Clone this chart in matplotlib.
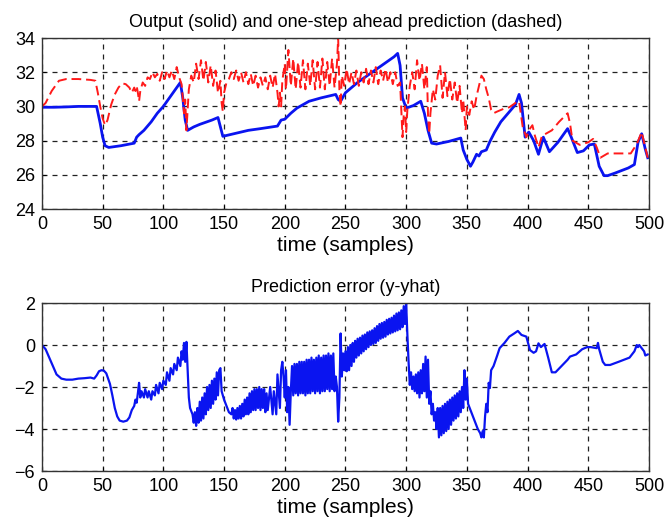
import matplotlib
matplotlib.use("Agg")
import matplotlib.pyplot as plt

plt.rcParams["font.family"] = ["Liberation Sans", "DejaVu Sans"]

# --- measured output y (solid) ---
t_out = [0, 10, 20, 30, 40, 45, 48, 50, 52, 55, 65, 76, 78, 80, 84, 90, 95, 100, 105,
         110, 114, 116, 118, 120, 125, 130, 140, 145, 147, 149, 155, 170, 180, 194, 197,
         200, 205, 210, 220, 230, 242, 244, 246, 250, 260, 270, 280, 290, 293, 295, 297,
         300, 306, 312, 315, 318, 321, 325, 335, 345, 347, 350, 353, 355, 358, 360, 362,
         366, 369, 373, 378, 384, 390, 393, 395, 398, 401, 405, 409, 413, 418, 425, 433,
         436, 441, 446, 451, 455, 459, 463, 466, 472, 483, 488, 491, 494, 497, 499]
y_out = [29.95, 29.95, 29.97, 30.0, 30.0, 30.0, 29.0, 28.2, 27.7, 27.6, 27.7, 27.85, 28.2,
         28.35, 28.6, 29.1, 29.6, 30.0, 30.5, 31.0, 31.4, 30.5, 29.2, 28.6, 28.8, 28.95,
         29.2, 29.35, 28.8, 28.25, 28.35, 28.6, 28.7, 28.85, 29.2, 29.25, 29.6, 29.9,
         30.3, 30.5, 30.7, 30.4, 30.3, 30.8, 31.4, 31.9, 32.4, 32.9, 33.1, 32.4, 30.5,
         29.9, 30.05, 30.3, 29.6, 28.6, 27.85, 27.8, 27.95, 28.15, 27.45, 26.9, 26.5, 26.75,
         27.2, 27.1, 27.35, 27.45, 27.95, 28.5, 29.1, 29.6, 30.1, 30.7, 30.2, 28.2, 28.5,
         28.0, 27.2, 28.2, 27.35, 27.9, 28.7, 28.2, 27.3, 27.4, 27.75, 27.8, 26.5, 25.95,
         25.95, 26.1, 26.4, 26.6, 27.9, 28.4, 27.5, 27.0]

# --- one-step ahead prediction (dashed) ---
t_pred = [0, 3, 8, 14, 20, 30, 40, 44, 46, 48, 50, 52, 54, 57, 60, 63, 66, 69, 72, 74,
          76, 77, 78, 79, 80, 81, 83, 85, 87, 89, 91, 93, 95, 97, 99, 101, 103, 105, 107,
          109, 111, 113, 115, 116, 117, 118, 119, 120, 121, 123, 125, 127, 129, 131, 133,
          135, 137, 139, 141, 143, 145, 147, 148, 149, 150, 152, 154, 156, 158, 160, 162,
          164, 166, 168, 170, 172, 174, 176, 178, 180, 182, 184, 186, 188, 190, 192, 194,
          195, 196, 197, 198, 200, 201, 203, 205, 207, 209, 211, 213, 215, 217, 219, 221,
          223, 225, 227, 229, 231, 233, 235, 237, 239, 241, 243, 244, 245, 246, 247, 249,
          251, 253, 255, 257, 259, 261, 263, 265, 267, 269, 271, 273, 275, 277, 279, 281,
          283, 285, 287, 289, 291, 293, 295, 296, 297, 298, 299, 300, 301, 303, 305, 307,
          309, 311, 313, 315, 317, 318, 319, 320, 322, 324, 326, 328, 330, 332, 334, 336,
          338, 340, 342, 344, 346, 347, 349, 350, 352, 354, 356, 358, 360, 362, 364, 366,
          368, 370, 372, 375, 380, 385, 390, 393, 396, 399, 401, 404, 406, 409, 412, 415,
          420, 426, 433, 435, 437, 443, 450, 454, 457, 460, 466, 475, 485, 490, 494, 497, 499]
y_pred = [30.0, 30.2, 30.9, 31.5, 31.6, 31.6, 31.55, 31.5, 30.8, 30.0, 29.3, 28.9, 29.2,
          30.1, 30.7, 31.1, 31.35, 31.3, 31.1, 30.8, 31.1, 30.9, 31.2, 30.8, 30.3, 30.9,
          31.4, 31.2, 31.7, 31.6, 32.0, 31.7, 31.9, 31.5, 32.0, 31.6, 32.1, 31.7, 32.1,
          31.6, 32.3, 31.7, 31.3, 30.5, 29.6, 30.4, 28.6, 29.8, 31.0, 31.8, 31.4, 32.5,
          31.6, 32.7, 31.5, 32.6, 31.4, 32.4, 31.2, 32.1, 30.8, 31.5, 30.2, 29.7, 30.8,
          31.4, 31.6, 32.0, 31.6, 32.1, 31.5, 32.0, 31.4, 32.0, 31.3, 31.9, 31.2, 31.8,
          31.1, 31.7, 31.2, 31.7, 31.0, 31.8, 31.1, 31.9, 30.8, 30.0, 30.8, 30.0, 31.5,
          32.5, 31.0, 33.3, 31.2, 32.8, 31.0, 32.6, 31.1, 32.7, 31.0, 32.5, 31.2, 32.7,
          31.0, 32.6, 31.1, 32.8, 31.0, 32.6, 31.2, 32.8, 31.1, 32.5, 34.0, 31.0, 30.0,
          31.8, 31.2, 32.2, 31.3, 32.0, 31.3, 32.1, 31.2, 32.0, 31.4, 32.2, 31.3, 32.1,
          31.4, 32.3, 31.3, 32.1, 31.5, 32.2, 31.4, 32.0, 31.3, 32.0, 31.2, 31.4, 29.8,
          28.2, 29.5, 30.0, 28.5, 29.8, 31.2, 32.0, 31.0, 32.7, 31.5, 32.5, 31.0, 32.3,
          29.5, 28.4, 29.6, 31.0, 30.4, 31.8, 32.4, 30.5, 32.0, 30.6, 31.6, 30.4, 31.4,
          30.2, 31.2, 29.6, 30.4, 28.6, 30.0, 29.5, 30.3, 29.8, 30.6, 31.2, 31.8, 31.6,
          31.0, 30.5, 29.8, 29.6, 29.7, 29.85, 29.95, 30.2, 30.3, 28.8, 28.2, 28.6, 28.9,
          28.3, 27.6, 28.3, 28.4, 28.6, 29.1, 29.6, 29.0, 28.0, 27.75, 27.9, 28.1, 27.6,
          27.0, 27.25, 27.25, 27.25, 27.8, 28.5, 27.6, 27.0]

# --- prediction error (y - yhat), (sample, value) pairs ---
err_pts = [
    (0, 0.0), (3, -0.2), (6, -0.6), (9, -1.0), (12, -1.4), (16, -1.6), (20, -1.65),
    (25, -1.65), (30, -1.6), (35, -1.58), (40, -1.55), (43, -1.6), (45, -1.45),
    (47, -1.25), (49, -1.2), (51, -1.22), (53, -1.35), (56, -1.85), (58, -2.4),
    (60, -3.0), (62, -3.4), (64, -3.6), (67, -3.65), (70, -3.6), (72, -3.45),
    (74, -3.1), (76, -2.9), (77, -2.6), (78, -2.75), (79, -2.3), (80, -1.8), (81, -2.5),
    (82, -2.2), (84, -2.5), (85, -2.1), (87, -2.5), (88, -2.2), (90, -2.6), (91, -2.2),
    (93, -2.4), (94, -1.9), (96, -2.3), (97, -1.8), (99, -2.1), (100, -1.7),
    (102, -1.9), (103, -1.3), (105, -1.7), (106, -1.1), (108, -1.4), (109, -0.9),
    (111, -1.2), (112, -0.6), (114, -1.0), (115, -0.3), (116, -0.7), (117, 0.1),
    (118, -0.8), (119, 0.15), (120, -1.2), (121, -2.5), (122, -3.0), (124, -3.3),
    (125, -3.7), (126, -3.2), (127, -3.85), (128, -3.0), (129, -3.7), (130, -2.7),
    (131, -3.6), (132, -2.5), (133, -3.5), (134, -2.3), (135, -3.3), (136, -2.0),
    (137, -3.1), (138, -1.9), (139, -3.0), (140, -1.7), (141, -2.8), (142, -1.6),
    (143, -2.6), (144, -1.3), (145, -2.4), (146, -1.2), (147, -1.1), (148, -2.2),
    (150, -2.6), (152, -2.9), (154, -3.2), (156, -3.3), (157, -3.0), (158, -3.5),
    (159, -3.1), (160, -3.55), (161, -3.0), (162, -3.5), (163, -2.9), (164, -3.5),
    (165, -2.8), (166, -3.4), (167, -2.6), (168, -3.3), (169, -2.5), (170, -3.3),
    (171, -2.3), (172, -3.2), (173, -2.2), (174, -3.1), (175, -2.1), (176, -3.1),
    (177, -2.1), (178, -3.0), (179, -2.0), (180, -3.1), (181, -2.1), (182, -3.0),
    (183, -2.1), (184, -3.2), (185, -2.3), (186, -3.1), (188, -2.0), (190, -3.3),
    (191, -2.2), (193, -3.3), (194, -1.4), (196, -3.0), (197, -1.2), (198, -0.8),
    (199, -1.5), (200, -2.5), (201, -1.2), (202, -3.2), (203, -2.0), (204, -3.8),
    (205, -2.2), (206, -1.0), (207, -2.4), (208, -0.9), (209, -2.3), (210, -0.9),
    (211, -2.4), (212, -0.8), (213, -2.3), (214, -0.8), (215, -2.3), (216, -0.8),
    (217, -2.4), (218, -0.7), (219, -2.3), (220, -0.7), (221, -2.3), (222, -0.6),
    (223, -2.2), (224, -0.7), (225, -2.3), (226, -0.6), (227, -2.2), (228, -0.5),
    (229, -2.3), (230, -0.6), (231, -2.2), (232, -0.5), (233, -2.2), (234, -0.5),
    (235, -2.1), (236, -0.4), (237, -2.2), (238, -0.5), (239, -2.1), (240, -0.4),
    (241, -2.2), (242, -1.5), (243, -2.0), (244, -3.65), (245, -2.5), (246, 0.55),
    (247, -1.5), (248, -0.4), (249, -1.2), (250, -0.3), (251, -1.25), (252, -0.1),
    (253, -1.2), (254, 0.0), (255, -1.0), (256, 0.1), (257, -0.8), (258, 0.2),
    (259, -0.6), (260, 0.3), (261, -0.5), (262, 0.35), (263, -0.4), (264, 0.45),
    (265, -0.3), (266, 0.5), (267, -0.2), (268, 0.6), (269, -0.1), (270, 0.65),
    (271, 0.0), (272, 0.7), (273, 0.05), (274, 0.8), (275, 0.1), (276, 0.9),
    (277, 0.2), (278, 1.0), (279, 0.3), (280, 1.05), (281, 0.35), (282, 1.1),
    (283, 0.4), (284, 1.2), (285, 0.5), (286, 1.25), (287, 0.55), (288, 1.3),
    (289, 0.6), (290, 1.4), (291, 0.65), (292, 1.5), (293, 0.7), (294, 1.55),
    (295, 0.75), (296, 1.65), (297, 0.85), (298, 1.85), (299, 1.0), (300, 2.0),
    (301, 0.5), (302, -0.8), (303, -1.9), (304, -1.3), (305, -2.1), (306, -1.5),
    (307, -2.2), (308, -1.4), (309, -2.3), (310, -1.3), (311, -2.5), (312, -1.2),
    (313, -2.3), (314, -0.9), (315, -2.2), (316, -0.55), (317, -2.5), (318, -0.7),
    (319, -2.8), (320, -2.2), (321, -3.3), (322, -2.8), (323, -3.6), (324, -3.2),
    (325, -4.0), (326, -3.0), (327, -4.4), (328, -3.0), (329, -4.3), (330, -2.9),
    (331, -4.2), (332, -2.8), (333, -4.1), (334, -2.7), (335, -4.0), (336, -2.6),
    (337, -3.8), (338, -2.5), (339, -3.6), (340, -2.4), (341, -3.5), (342, -2.3),
    (343, -3.4), (344, -2.2), (345, -3.2), (346, -2.0), (347, -3.0), (348, -1.2),
    (349, -2.6), (350, -1.6), (351, -2.8), (353, -3.1), (355, -3.4), (357, -3.7),
    (359, -4.0), (361, -4.2), (362, -4.4), (363, -4.1), (364, -4.4), (365, -3.4),
    (366, -2.8), (367, -3.2), (368, -1.8), (369, -2.05), (370, -1.2), (372, -1.0),
    (375, -0.5), (377, -0.15), (381, 0.1), (385, 0.4), (389, 0.55), (392, 0.67),
    (395, 0.48), (399, 0.4), (402, -0.24), (405, -0.37), (407, -0.3), (409, 0.08),
    (411, -0.1), (414, 0.05), (417, -0.6), (420, -1.3), (423, -1.3), (428, -1.0),
    (433, -0.7), (435, -0.55), (440, -0.45), (445, -0.2), (449, -0.1), (452, -0.1),
    (457, -0.15), (458, 0.1), (459, -0.2), (462, -0.8), (464, -0.95), (468, -0.95),
    (475, -0.8), (484, -0.6), (488, -0.3), (490, 0.0), (491, -0.1), (492, 0.0),
    (494, -0.15), (496, -0.3), (497, -0.5), (499, -0.45),
]
t_err = [p[0] for p in err_pts]
e_err = [p[1] for p in err_pts]

X_TICKS = [0, 50, 100, 150, 200, 250, 300, 350, 400, 450, 500]


def style(ax, yticks):
    ax.set_xlim(0, 500)
    ax.set_ylim(yticks[0], yticks[-1])
    ax.set_xticks(X_TICKS)
    ax.set_yticks(yticks)
    ax.grid(True, color="#222222", ls=(0, (4, 4)), lw=0.9)
    ax.tick_params(direction="in", length=3, labelsize=13, pad=5)
    ax.set_xlabel("time (samples)", fontsize=15, labelpad=2)
    for sp in ax.spines.values():
        sp.set_color("#333333"); sp.set_linewidth(1.0)


fig = plt.figure(figsize=(6.66, 5.22), dpi=100)
ax1 = fig.add_axes([0.063, 0.5996, 0.9114, 0.3276])
ax2 = fig.add_axes([0.063, 0.0977, 0.9114, 0.3218])

ax1.plot(t_out, y_out, color="#0a14f0", lw=2.0)
ax1.plot(t_pred, y_pred, color="#ff1a1a", lw=1.4, ls=(0, (5, 2.5)))
style(ax1, [24, 26, 28, 30, 32, 34])
ax1.set_title("Output (solid) and one-step ahead prediction (dashed)", fontsize=13, pad=8)

ax2.plot(t_err, e_err, color="#0a14f0", lw=1.6)
style(ax2, [-6, -4, -2, 0, 2])
ax2.set_title("Prediction error (y-yhat)", fontsize=13, pad=8)

fig.savefig("out.png", dpi=100)
